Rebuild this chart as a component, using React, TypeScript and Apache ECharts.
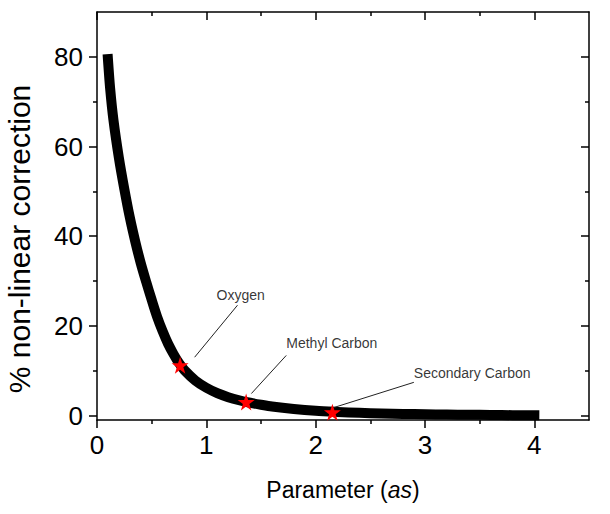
import React, { useEffect, useRef } from "react";
import * as echarts from "echarts";

// Curve values
const curveX = [0.10, 0.12, 0.15, 0.20, 0.25, 0.30, 0.35, 0.40, 0.45, 0.50, 0.55, 0.60, 0.65, 0.70, 0.75, 0.80, 0.90, 1.00, 1.10, 1.20, 1.30, 1.40, 1.50, 1.60, 1.80, 2.00, 2.20, 2.40, 2.60, 2.80, 3.00, 3.20, 3.40, 3.60, 3.80, 4.00];
const curveY = [79.5, 73, 66, 57.5, 50.5, 44.2, 38.8, 34, 29.8, 25.8, 22, 18.8, 16, 13.7, 11.7, 10.1, 7.8, 6.2, 5.0, 4.1, 3.4, 2.85, 2.4, 2.0, 1.45, 1.05, 0.8, 0.6, 0.45, 0.35, 0.28, 0.22, 0.17, 0.12, 0.08, 0.05];

// Highlighted points
const annNames = ["Oxygen", "Methyl Carbon", "Secondary Carbon"];
const starX = [0.76, 1.364, 2.153];
const starY = [11.2, 3.0, 0.74];
const arrowFromX = [0.893, 1.412, 2.169];
const arrowFromY = [13.0, 4.9, 1.8];
const arrowToX = [1.285, 1.731, 2.898];
const arrowToY = [24.6, 13.4, 7.4];
const labelX = [1.093, 1.731, 2.898];
const labelY = [26.8, 16.1, 9.4];

// Axes
const xMin = 0;
const xMax = 4.5;
const yMin = -1;
const yMax = 90;
const xMajorTicks = [0, 1, 2, 3, 4];
const xMinorTicks = [0.5, 1.5, 2.5, 3.5];
const yMajorTicks = [0, 20, 40, 60, 80];
const yMinorTicks = [10, 30, 50, 70];

const xTitle = "Parameter ({i|as})";
const yTitle = "% non-linear correction";

const FONT = "'Liberation Sans', Arial, Helvetica, sans-serif";
const AXIS_COLOR = "#000";

export default function App() {
  const ref = useRef<HTMLDivElement>(null);

  useEffect(() => {
    if (!ref.current) return;
    const chart = echarts.init(ref.current, null, { renderer: "svg" });

    const makeX = (position: string, ticks: number[], len: number, inside: boolean, showLine: boolean, labels: boolean, extra: any = {}) => ({
      type: "value",
      position,
      min: xMin,
      max: xMax,
      splitLine: { show: false },
      axisLine: { show: showLine, onZero: false, lineStyle: { color: AXIS_COLOR, width: 1.5 } },
      axisTick: { show: true, customValues: ticks, length: len, inside, lineStyle: { color: AXIS_COLOR, width: 1.5 } },
      axisLabel: labels
        ? { show: true, customValues: ticks, margin: 12, fontSize: 26, color: "#000", fontFamily: FONT }
        : { show: false },
      ...extra,
    });

    const makeY = (position: string, ticks: number[], len: number, inside: boolean, showLine: boolean, labels: boolean) => ({
      type: "value",
      position,
      min: yMin,
      max: yMax,
      splitLine: { show: false },
      axisLine: { show: showLine, onZero: false, lineStyle: { color: AXIS_COLOR, width: 1.5 } },
      axisTick: { show: true, customValues: ticks, length: len, inside, lineStyle: { color: AXIS_COLOR, width: 1.5 } },
      axisLabel: labels
        ? { show: true, customValues: ticks, margin: 14, fontSize: 26, color: "#000", fontFamily: FONT }
        : { show: false },
    });

    const curveData = curveX.map((x, i) => [x, curveY[i]]);
    const starData = starX.map((x, i) => [x, starY[i]]);
    const labelData = labelX.map((x, i) => ({ value: [x, labelY[i]], name: annNames[i] }));
    const arrowData = arrowFromX.map((x, i) => [
      { coord: [x, arrowFromY[i]] },
      { coord: [arrowToX[i], arrowToY[i]] },
    ]);

    chart.setOption({
      animation: false,
      grid: { left: 97, right: 21, top: 12, bottom: 94, containLabel: false, outerBoundsMode: "none" },
      xAxis: [
        makeX("bottom", xMajorTicks, 8, false, true, true, {
          name: xTitle,
          nameLocation: "middle",
          nameGap: 58,
          nameTextStyle: {
            fontSize: 23,
            color: "#000",
            fontFamily: FONT,
            rich: { i: { fontSize: 23, fontStyle: "italic", color: "#000", fontFamily: FONT } },
          },
        }),
        makeX("bottom", xMinorTicks, 4, false, false, false),
        makeX("top", xMajorTicks, 8, true, true, false),
        makeX("top", xMinorTicks, 4, true, false, false),
      ],
      yAxis: [
        makeY("left", yMajorTicks, 8, false, true, true),
        makeY("left", yMinorTicks, 4, false, false, false),
        makeY("right", yMajorTicks, 8, true, true, false),
        makeY("right", yMinorTicks, 4, true, false, false),
      ],
      graphic: [
        {
          type: "text",
          x: 19,
          y: 239,
          rotation: Math.PI / 2,
          style: {
            text: yTitle,
            fontSize: 30,
            fontFamily: FONT,
            fill: "#000",
            textAlign: "center",
            textVerticalAlign: "middle",
          },
        },
      ],
      series: [
        {
          type: "line",
          xAxisIndex: 0,
          yAxisIndex: 0,
          data: curveData,
          showSymbol: false,
          symbol: "none",
          smooth: 0.3,
          lineStyle: { color: "#000", width: 10, cap: "square", join: "round" },
          silent: true,
          z: 2,
        },
        {
          type: "scatter",
          xAxisIndex: 0,
          yAxisIndex: 0,
          data: starData,
          symbol: "path://M50,0L61.2,34.5L97.6,34.5L68.2,55.9L79.4,90.5L50,69.1L20.6,90.5L31.8,55.9L2.4,34.5L38.8,34.5Z",
          symbolSize: 17,
          itemStyle: { color: "#ff0000", opacity: 1 },
          silent: true,
          z: 5,
          markLine: {
            silent: true,
            symbol: ["none", "arrow"],
            symbolSize: [0, 7],
            label: { show: false },
            lineStyle: { color: "#222", width: 1, type: "solid" },
            data: arrowData,
          },
        },
        {
          type: "scatter",
          xAxisIndex: 0,
          yAxisIndex: 0,
          data: labelData,
          symbolSize: 0,
          silent: true,
          label: {
            show: true,
            position: "right",
            distance: 0,
            formatter: (p: any) => p.name,
            fontSize: 14,
            fontFamily: FONT,
            color: "#000",
          },
          z: 6,
        },
      ],
    });

    return () => chart.dispose();
  }, []);

  return (
    <div
      ref={ref}
      style={{ position: "fixed", left: 0, top: 0, width: 610, height: 514, background: "#fff" }}
    />
  );
}
